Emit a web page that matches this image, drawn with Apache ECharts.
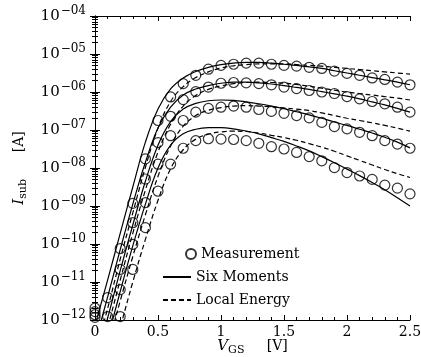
<!DOCTYPE html>
<html>
<head>
<meta charset="utf-8">
<script src="https://cdn.jsdelivr.net/npm/echarts@6/dist/echarts.min.js"></script>
<style>
  html, body { margin: 0; padding: 0; background: #fff; }
  #chart { width: 421px; height: 357px; }
</style>
</head>
<body>
<div id="chart"></div>
<script>
// gate voltage grid (V), shared by measurements and simulations
const vgs = [0, 0.1, 0.2, 0.3, 0.4, 0.5, 0.6, 0.7, 0.8, 0.9, 1.0, 1.1, 1.2,
  1.3, 1.4, 1.5, 1.6, 1.7, 1.8, 1.9, 2.0, 2.1, 2.2, 2.3, 2.4, 2.5];

// log10 of substrate current [A], four drain biases (top to bottom)
const measA = [-11.69, -11.41, -10.12, -8.93, -7.76, -6.75, -6.13, -5.78, -5.56, -5.40, -5.30, -5.27, -5.24,
  -5.24, -5.27, -5.30, -5.32, -5.35, -5.38, -5.45, -5.51, -5.56, -5.63, -5.67, -5.74, -5.81];
const measB = [-11.78, -11.91, -10.67, -9.44, -8.29, -7.33, -6.64, -6.20, -5.99, -5.87, -5.77, -5.75, -5.76,
  -5.78, -5.81, -5.87, -5.91, -5.96, -6.00, -6.04, -6.12, -6.18, -6.25, -6.31, -6.40, -6.53];
const measC = [-11.86, null, -11.20, -10.01, -8.91, -7.90, -7.15, -6.75, -6.53, -6.43, -6.40, -6.37, -6.40,
  -6.46, -6.51, -6.56, -6.62, -6.68, -6.80, -6.91, -6.97, -7.06, -7.15, -7.28, -7.37, -7.48];
const measD = [-11.93, null, -11.91, -10.67, -9.57, -8.61, -7.90, -7.48, -7.28, -7.23, -7.24, -7.25, -7.28,
  -7.35, -7.44, -7.50, -7.59, -7.70, -7.81, -7.99, -8.12, -8.21, -8.30, -8.45, -8.53, -8.68];

// six moments model
const smA = [-12.15, -10.95, -9.72, -8.50, -7.32, -6.45, -5.92, -5.63, -5.46, -5.35, -5.28, -5.24, -5.22,
  -5.22, -5.24, -5.27, -5.30, -5.34, -5.38, -5.44, -5.50, -5.56, -5.62, -5.68, -5.74, -5.81];
const smB = [-12.60, -11.40, -10.15, -8.95, -7.85, -6.95, -6.40, -6.08, -5.92, -5.83, -5.77, -5.74, -5.74,
  -5.76, -5.79, -5.83, -5.88, -5.93, -5.99, -6.05, -6.11, -6.18, -6.26, -6.34, -6.43, -6.53];
const smC = [-13.10, -11.95, -10.70, -9.50, -8.35, -7.40, -6.78, -6.45, -6.30, -6.23, -6.21, -6.22, -6.26,
  -6.31, -6.37, -6.44, -6.52, -6.60, -6.69, -6.79, -6.88, -6.98, -7.08, -7.19, -7.32, -7.47];
const smD = [-13.70, -12.50, -11.25, -10.05, -8.95, -8.00, -7.40, -7.10, -6.98, -6.94, -6.94, -6.97, -7.03,
  -7.10, -7.20, -7.30, -7.42, -7.55, -7.70, -7.86, -8.03, -8.20, -8.38, -8.57, -8.78, -9.00];

// local energy model
const leA = [-12.90, -11.70, -10.40, -9.18, -7.98, -6.95, -6.25, -5.86, -5.62, -5.47, -5.37, -5.31, -5.28,
  -5.26, -5.26, -5.26, -5.28, -5.30, -5.32, -5.35, -5.38, -5.41, -5.44, -5.47, -5.50, -5.53];
const leB = [-13.40, -12.20, -10.95, -9.72, -8.58, -7.58, -6.85, -6.37, -6.09, -5.93, -5.84, -5.78, -5.75,
  -5.74, -5.75, -5.77, -5.80, -5.85, -5.90, -5.95, -6.00, -6.04, -6.08, -6.12, -6.16, -6.21];
const leC = [-13.90, -12.70, -11.50, -10.33, -9.23, -8.22, -7.42, -6.90, -6.62, -6.48, -6.41, -6.37, -6.36,
  -6.37, -6.39, -6.42, -6.45, -6.49, -6.55, -6.62, -6.69, -6.75, -6.81, -6.88, -6.95, -7.03];
const leD = [-14.60, -13.40, -12.20, -11.00, -9.88, -8.85, -8.02, -7.52, -7.24, -7.11, -7.05, -7.03, -7.04,
  -7.08, -7.14, -7.20, -7.27, -7.36, -7.45, -7.56, -7.68, -7.80, -7.92, -8.04, -8.15, -8.25];

const SERIF = 'DejaVu Serif';

function pairs(exps) {
  return vgs.map((v, i) => [v, exps[i] == null ? null : Math.pow(10, exps[i])]);
}

function measSeries(exps) {
  return {
    name: 'Measurement', type: 'scatter', data: pairs(exps),
    symbol: 'circle', symbolSize: 10,
    itemStyle: { color: 'rgba(255,255,255,0)', borderColor: '#000', borderWidth: 1.2 },
    z: 3
  };
}

function lineSeries(name, exps, dashed) {
  return {
    name: name, type: 'line', data: pairs(exps), symbol: 'none', smooth: 0.4,
    clip: true,
    lineStyle: { color: '#000', width: 1.2, type: dashed ? [5, 3] : 'solid' },
    itemStyle: { color: '#000' },
    z: 2
  };
}

const chart = echarts.init(document.getElementById('chart'));

const tickStyle = { lineStyle: { color: '#000', width: 1 } };

const nameRich = {
  i: { fontFamily: SERIF, fontStyle: 'italic', fontSize: 15, color: '#000' },
  sub: { fontFamily: SERIF, fontSize: 11, color: '#000', padding: [8, 0, 0, 0] },
  t: { fontFamily: SERIF, fontSize: 14, color: '#000' }
};

chart.setOption({
  backgroundColor: '#fff',
  animation: false,
  grid: { left: 95, right: 11, top: 16, bottom: 37, outerBoundsMode: 'none', containLabel: false },
  legend: [
    {
      data: ['Measurement'], left: 180, top: 242, selectedMode: false,
      itemWidth: 10, itemHeight: 10,
      textStyle: { fontFamily: SERIF, fontSize: 14, color: '#000' }
    },
    {
      data: ['Six Moments', 'Local Energy'], orient: 'vertical', left: 157, top: 265,
      selectedMode: false, itemWidth: 28, itemHeight: 10, itemGap: 9,
      itemStyle: { color: 'rgba(0,0,0,0)', borderColor: 'rgba(0,0,0,0)', borderWidth: 0 },
      textStyle: { fontFamily: SERIF, fontSize: 14, color: '#000' }
    }
  ],
  xAxis: [
    {
      type: 'value', position: 'bottom', min: 0, max: 2.5, interval: 0.5,
      axisLine: { lineStyle: { color: '#000', width: 1 } },
      axisTick: { inside: true, length: 5, ...tickStyle },
      minorTick: { show: true, splitNumber: 5, length: 3, ...tickStyle },
      splitLine: { show: false },
      axisLabel: { color: '#000', fontFamily: SERIF, fontSize: 14, margin: 5 },
      name: '{i|V}{sub|GS}{t|     [V]}', nameLocation: 'middle', nameGap: 17,
      nameMoveOverlap: false,
      nameTextStyle: { rich: nameRich }
    },
    {
      type: 'value', position: 'top', min: 0, max: 2.5, interval: 0.5,
      axisLine: { lineStyle: { color: '#000', width: 1 } },
      axisTick: { inside: true, length: 5, ...tickStyle },
      minorTick: { show: true, splitNumber: 5, length: 3, ...tickStyle },
      splitLine: { show: false },
      axisLabel: { show: false }
    }
  ],
  yAxis: [
    {
      type: 'log', logBase: 10, position: 'left', min: 1e-12, max: 1e-4, splitNumber: 8,
      axisLine: { lineStyle: { color: '#000', width: 1 } },
      axisTick: { inside: true, length: 5, ...tickStyle },
      minorTick: { show: true, splitNumber: 9, length: 3, ...tickStyle },
      splitLine: { show: false },
      axisLabel: {
        margin: 9,
        formatter: function (v) {
          const e = Math.round(Math.log10(v));
          return '{b|10}{s|' + (e < 0 ? '\u2212' : '') + String(Math.abs(e)).padStart(2, '0') + '}';
        },
        rich: {
          b: { fontFamily: SERIF, fontSize: 15, color: '#000' },
          s: { fontFamily: SERIF, fontSize: 12, color: '#000', padding: [0, 0, 10, 1] }
        }
      },
      name: '{i|I}{sub|sub}{t|      [A]}', nameLocation: 'middle', nameRotate: 90, nameGap: 66,
      nameMoveOverlap: false,
      nameTextStyle: { rich: nameRich }
    },
    {
      type: 'log', logBase: 10, position: 'right', min: 1e-12, max: 1e-4, splitNumber: 8,
      axisLine: { lineStyle: { color: '#000', width: 1 } },
      axisTick: { inside: true, length: 5, ...tickStyle },
      minorTick: { show: true, splitNumber: 9, length: 3, ...tickStyle },
      splitLine: { show: false },
      axisLabel: { show: false }
    }
  ],
  series: [
    lineSeries('Six Moments', smA, false),
    lineSeries('Six Moments', smB, false),
    lineSeries('Six Moments', smC, false),
    lineSeries('Six Moments', smD, false),
    lineSeries('Local Energy', leA, true),
    lineSeries('Local Energy', leB, true),
    lineSeries('Local Energy', leC, true),
    lineSeries('Local Energy', leD, true),
    measSeries(measA),
    measSeries(measB),
    measSeries(measC),
    measSeries(measD)
  ]
});
</script>
</body>
</html>
